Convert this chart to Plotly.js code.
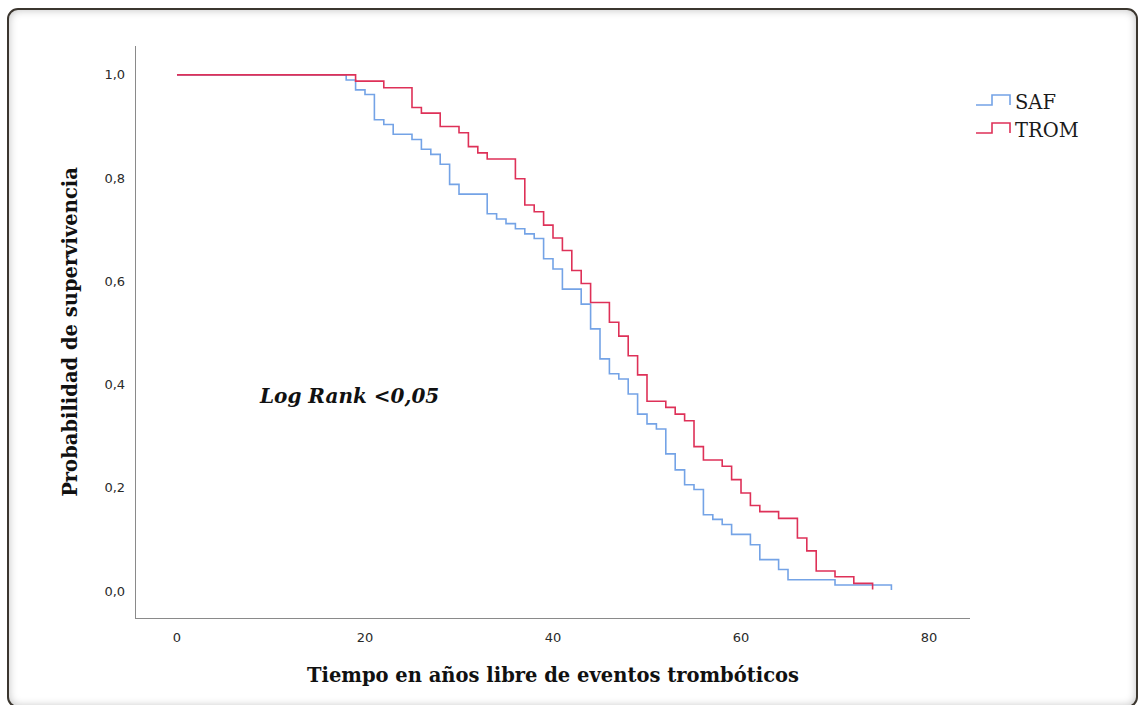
<!DOCTYPE html>
<html>
<head>
<meta charset="utf-8">
<script src="https://cdn.plot.ly/plotly-3.0.1.min.js"></script>
<style>
  html, body { margin: 0; padding: 0; background: #ffffff; width: 1143px; height: 705px; overflow: hidden; }
  #frame { position: absolute; left: 7px; top: 8px; width: 1131px; height: 700px; border: 2px solid #3b362f; border-radius: 11px; background: #ffffff; box-shadow: inset 0 0 8px rgba(0,0,0,0.25); box-sizing: border-box; }
  #chart { position: absolute; left: 0; top: 0; width: 1143px; height: 705px; }
</style>
</head>
<body>
<div id="frame"></div>
<div id="chart"></div>
<script>
// Series names
const seriesNames = ["SAF", "TROM"];
// SAF: event times (years) and survival after each step
const safTime = [0, 18, 19, 20, 21, 22, 23, 25, 26, 27, 28, 29, 30, 33, 34, 35, 36, 37, 38, 39, 40, 41, 43, 44, 45, 46, 47, 48, 49, 50, 51, 52, 53, 54, 55, 56, 57, 58, 59, 61, 62, 64, 65, 70, 76];
const safSurv = [1.0, 0.990, 0.971, 0.962, 0.913, 0.904, 0.885, 0.875, 0.856, 0.846, 0.827, 0.788, 0.769, 0.731, 0.721, 0.712, 0.702, 0.692, 0.683, 0.644, 0.624, 0.585, 0.556, 0.508, 0.450, 0.421, 0.411, 0.382, 0.343, 0.324, 0.314, 0.266, 0.235, 0.206, 0.197, 0.148, 0.139, 0.129, 0.110, 0.090, 0.061, 0.042, 0.022, 0.012, 0.002];
// TROM: event times (years) and survival after each step
const tromTime = [0, 19, 22, 25, 26, 28, 30, 31, 32, 33, 36, 37, 38, 39, 40, 41, 42, 43, 44, 46, 47, 48, 49, 50, 52, 53, 54, 55, 56, 58, 59, 60, 61, 62, 64, 66, 67, 68, 70, 72, 74];
const tromSurv = [1.0, 0.988, 0.975, 0.937, 0.926, 0.900, 0.888, 0.861, 0.849, 0.837, 0.799, 0.748, 0.735, 0.709, 0.684, 0.660, 0.621, 0.596, 0.559, 0.521, 0.494, 0.456, 0.419, 0.368, 0.356, 0.343, 0.330, 0.280, 0.254, 0.242, 0.216, 0.190, 0.166, 0.154, 0.141, 0.103, 0.078, 0.039, 0.028, 0.015, 0.003];
// Axis ticks
const xTicks = [0, 20, 40, 60, 80];
const xTickText = ["0", "20", "40", "60", "80"];
const yTicks = [0, 0.2, 0.4, 0.6, 0.8, 1.0];
const yTickText = ["0,0", "0,2", "0,4", "0,6", "0,8", "1,0"];
const colors = ["#74a3e6", "#de3158"];

const serif = "DejaVu Serif, Liberation Serif, serif";
const sans = "DejaVu Sans, Liberation Sans, sans-serif";

const traces = [
  { x: safTime, y: safSurv, name: seriesNames[0], type: "scatter", mode: "lines",
    line: { shape: "hv", color: colors[0], width: 1.6 }, showlegend: false, hoverinfo: "x+y" },
  { x: tromTime, y: tromSurv, name: seriesNames[1], type: "scatter", mode: "lines",
    line: { shape: "hv", color: colors[1], width: 1.6 }, showlegend: false, hoverinfo: "x+y" }
];

// custom step-shaped legend glyphs (paper coordinates)
const W = 1143, H = 705, mL = 136, mR = 173, mT = 46, mB = 87;
const pw = W - mL - mR, ph = H - mT - mB;
function px2x(p) { return (p - mL) / pw; }
function py2y(p) { return 1 - (p - mT) / ph; }
const legendRows = [105, 133];
const shapes = [];
const annotations = [];
legendRows.forEach((yb, i) => {
  const yt = yb - 10;
  const path = "M " + px2x(976) + " " + py2y(yb) + " L " + px2x(992) + " " + py2y(yb) +
    " L " + px2x(992) + " " + py2y(yt) + " L " + px2x(1010) + " " + py2y(yt) +
    " L " + px2x(1010) + " " + py2y(yb);
  shapes.push({ type: "path", xref: "paper", yref: "paper", path: path,
    line: { color: colors[i], width: 1.6 } });
  annotations.push({ xref: "paper", yref: "paper", x: px2x(1013), y: py2y(yb - 3),
    xanchor: "left", yanchor: "middle", showarrow: false, text: seriesNames[i],
    font: { family: serif, size: 19.5, color: "#1a1a1a" } });
});
annotations.push({ xref: "x", yref: "y", x: 18.3, y: 0.378, xanchor: "center", yanchor: "middle",
  showarrow: false, text: "<b><i>Log Rank &lt;0,05</i></b>",
  font: { family: serif, size: 20, color: "#111111" } });

const layout = {
  width: W, height: H,
  margin: { l: mL, r: mR, t: mT, b: mB },
  paper_bgcolor: "rgba(0,0,0,0)",
  plot_bgcolor: "rgba(0,0,0,0)",
  showlegend: false,
  xaxis: {
    range: [-4.36, 84.36], tickvals: xTicks, ticktext: xTickText,
    showgrid: false, zeroline: false, showline: true, linecolor: "#8a8a8a", linewidth: 1.3,
    ticks: "outside", ticklen: 7, tickcolor: "rgba(0,0,0,0)",
    tickfont: { family: sans, size: 13, color: "#2a2a2a" },
    title: { text: "<b>Tiempo en años libre de eventos trombóticos</b>", standoff: 24,
      font: { family: serif, size: 19.5, color: "#111111" } }
  },
  yaxis: {
    range: [-0.052, 1.056], tickvals: yTicks, ticktext: yTickText,
    showgrid: false, zeroline: false, showline: true, linecolor: "#8a8a8a", linewidth: 1.3,
    ticks: "outside", ticklen: 7, tickcolor: "rgba(0,0,0,0)",
    tickfont: { family: sans, size: 13, color: "#2a2a2a" },
    title: { text: "<b>Probabilidad de supervivencia</b>", standoff: 21,
      font: { family: serif, size: 19.5, color: "#111111" } }
  },
  shapes: shapes,
  annotations: annotations
};

Plotly.newPlot("chart", traces, layout, { displayModeBar: false, staticPlot: true });
</script>
</body>
</html>
